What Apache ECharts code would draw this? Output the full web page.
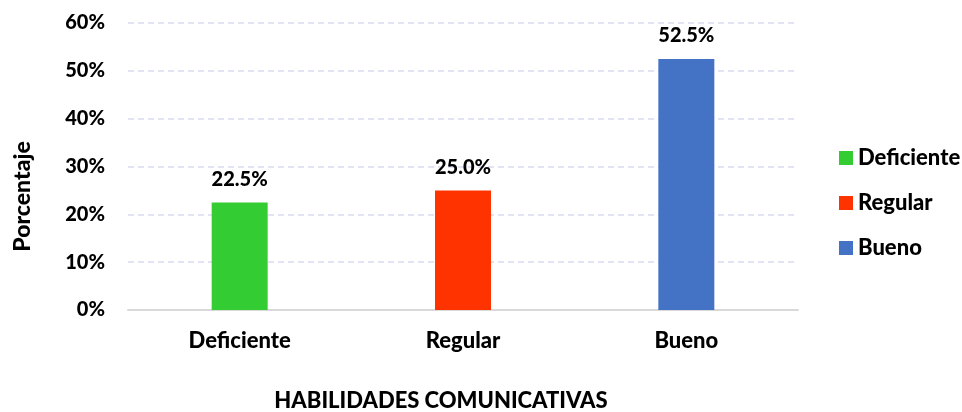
<!DOCTYPE html>
<html>
<head>
<meta charset="utf-8">
<script src="https://cdn.jsdelivr.net/npm/echarts@6/dist/echarts.min.js"></script>
<style>
  html, body { margin: 0; padding: 0; background: #fff; }
  #chart { width: 962px; height: 412px; }
</style>
</head>
<body>
<div id="chart"></div>
<script>
// datos del gráfico
const categories = ['Deficiente', 'Regular', 'Bueno']
const values = [22.5, 25.0, 52.5]
const colors = ['#33cc33', '#ff3300', '#4472c4']
const yTicks = [0, 10, 20, 30, 40, 50, 60]

const FONT = 'Lato'

const chart = echarts.init(document.getElementById('chart'))

// una serie por categoría para que la leyenda muestre cada nivel
const series = categories.map((name, i) => ({
  name: name,
  type: 'bar',
  stack: 'total',
  barWidth: 56,
  data: values.map((v, j) => (j === i ? v : '-')),
  itemStyle: { color: colors[i] },
  label: {
    show: true,
    position: 'top',
    distance: 13,
    color: '#000',
    fontFamily: FONT,
    fontWeight: 900,
    fontSize: 20,
    formatter: p => p.value.toFixed(1) + '%'
  }
}))

const option = {
  animation: false,
  backgroundColor: '#fff',
  grid: {
    left: 128,
    right: 164,
    top: 23,
    bottom: 102,
    outerBoundsMode: 'none',
    containLabel: false
  },
  legend: {
    orient: 'vertical',
    left: 834,
    top: 142,
    icon: 'rect',
    itemWidth: 14,
    itemHeight: 14,
    itemGap: 23,
    data: categories,
    textStyle: {
      color: '#000',
      fontFamily: FONT,
      fontWeight: 900,
      fontSize: 22,
      lineHeight: 22
    }
  },
  xAxis: {
    type: 'category',
    data: categories,
    name: 'HABILIDADES COMUNICATIVAS',
    nameLocation: 'middle',
    nameGap: 80,
    nameTextStyle: {
      color: '#000',
      fontFamily: FONT,
      fontWeight: 900,
      fontSize: 22,
      padding: [0, 44, 0, 0]
    },
    axisTick: { show: false },
    axisLine: { lineStyle: { color: '#d9d9d9', width: 2 } },
    axisLabel: {
      margin: 20,
      color: '#000',
      fontFamily: FONT,
      fontWeight: 900,
      fontSize: 22
    }
  },
  yAxis: {
    type: 'value',
    min: yTicks[0],
    max: yTicks[yTicks.length - 1],
    interval: 10,
    name: 'Porcentaje',
    nameLocation: 'middle',
    nameGap: 94,
    nameTextStyle: {
      color: '#000',
      fontFamily: FONT,
      fontWeight: 900,
      fontSize: 23,
      padding: [0, 60, 0, 0]
    },
    axisLine: { show: false },
    axisTick: { show: false },
    axisLabel: {
      margin: 23,
      color: '#000',
      fontFamily: FONT,
      fontWeight: 900,
      fontSize: 20,
      formatter: v => v + '%'
    },
    splitLine: {
      lineStyle: { color: '#d9dcf0', type: [6, 4], width: 1.5 }
    }
  },
  series: series
}

chart.setOption(option)
</script>
</body>
</html>
